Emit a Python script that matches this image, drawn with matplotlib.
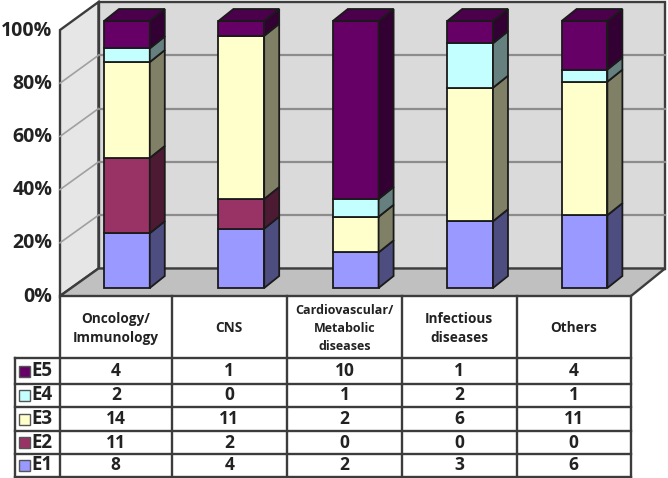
import numpy as np
import matplotlib
matplotlib.use('Agg')
import matplotlib.pyplot as plt
from matplotlib.patches import Polygon, Rectangle

W, H = 668, 478

categories = ['Oncology/\nImmunology', 'CNS', 'Cardiovascular/\nMetabolic\ndiseases', 'Infectious\ndiseases', 'Others']
series = ['E1', 'E2', 'E3', 'E4', 'E5']
e1 = [8, 4, 2, 3, 6]
e2 = [11, 2, 0, 0, 0]
e3 = [14, 11, 2, 6, 11]
e4 = [2, 0, 1, 2, 1]
e5 = [4, 1, 10, 1, 4]
pct_ticks = [0, 20, 40, 60, 80, 100]

front = ['#9999FF', '#993366', '#FFFFCC', '#C4FFFF', '#660066']
side = ['#4D4D80', '#4D1A33', '#808066', '#668080', '#330033']
edge = '#1a1a1a'

plt.rcParams['font.family'] = 'Open Sans'
plt.rcParams['font.weight'] = 'bold'
plt.rcParams['text.color'] = '#222222'

fig = plt.figure(figsize=(W / 100, H / 100), dpi=100, facecolor='white')

# background axes in pixels: walls, floor and table
bg = fig.add_axes([0, 0, 1, 1])
bg.set_xlim(0, W)
bg.set_ylim(H, 0)
bg.axis('off')

line = '#3c3c3c'
left_x, back_x, right_x, back_rx = 60, 98.5, 631, 665
y0, y100 = 296, 30
by0, by100 = 268.5, 2
bg.add_patch(Polygon([(left_x, y0), (back_x, by0), (back_x, by100), (left_x, y100)], fc='#E6E6E6', ec=line, lw=1.7))
bg.add_patch(Polygon([(back_x, by0), (back_rx, by0), (back_rx, by100), (back_x, by100)], fc='#DADADA', ec=line, lw=1.7))
bg.add_patch(Polygon([(left_x, y0), (right_x, y0), (back_rx, by0), (back_x, by0)], fc='#C0C0C0', ec=line, lw=1.7))

for p in pct_ticks:
    y = y0 + (y100 - y0) * p / 100
    by = by0 + (by100 - by0) * p / 100
    if 0 < p < 100:
        bg.plot([left_x, back_x], [y, by], color='#a0a0a0', lw=1.2)
        bg.plot([back_x, back_rx], [by, by], color='#8c8c8c', lw=1.6)
    bg.text(52.5, y + 0.5, f'{p}%', ha='right', va='center', fontsize=14, color='#222222')

# table
col_x = [60, 171.5, 287, 402, 516.5, 631]
row_y = [358, 384, 407, 431, 454, 477]
tl = '#3c3c3c'
for x in col_x:
    bg.plot([x, x], [y0, row_y[-1]], color=tl, lw=1.7)
bg.plot([15, 15], [row_y[0], row_y[-1]], color=tl, lw=1.7)
for y in row_y:
    bg.plot([15, right_x], [y, y], color=tl, lw=1.7)
for i, c in enumerate(categories):
    fs = 9 if i == 2 else 9.8
    bg.text((col_x[i] + col_x[i + 1]) / 2, (y0 + row_y[0]) / 2 + 1.5, c, ha='center', va='center',
            fontsize=fs, linespacing=1.5, color='#222222')
rows = [(4, e5), (3, e4), (2, e3), (1, e2), (0, e1)]
for r, (k, vals) in enumerate(rows):
    yc = (row_y[r] + row_y[r + 1]) / 2
    bg.add_patch(Rectangle((19, yc - 5.5), 10.5, 11, fc=front[k], ec='#555555', lw=1))
    bg.text(31, yc, series[k], ha='left', va='center', fontsize=13.5, color='#222222')
    for i, v in enumerate(vals):
        bg.text((col_x[i] + col_x[i + 1]) / 2, yc, str(v), ha='center', va='center', fontsize=12.5, color='#222222')

# bars, in their own axes: categories across, percent up
ax = fig.add_axes([69.7 / W, 1 - 288 / H, 572 / W, 267 / H])
ax.set_xlim(-0.5, 4.5)
ax.set_ylim(0, 100)
ax.axis('off')

counts = np.array([e1, e2, e3, e4, e5], dtype=float)
pct = counts / counts.sum(axis=0) * 100
x = np.arange(len(categories))
bw = 0.4
dx = 15 / (572 / 5)
dy = 12 / 2.67
bottom = np.zeros(len(categories))
for k in range(len(series)):
    ax.bar(x, pct[k], bw, bottom=bottom, color=front[k], edgecolor=edge, linewidth=1.3, clip_on=False)
    for i in x:
        if pct[k][i] == 0:
            continue
        xr = i + bw / 2
        b, t = bottom[i], bottom[i] + pct[k][i]
        ax.add_patch(Polygon([(xr, b), (xr + dx, b + dy), (xr + dx, t + dy), (xr, t)],
                             fc=side[k], ec=edge, lw=1.3, clip_on=False))
        if k == len(series) - 1:
            xl = i - bw / 2
            ax.add_patch(Polygon([(xl, t), (xl + dx, t + dy), (xr + dx, t + dy), (xr, t)],
                                 fc='#4A004A', ec=edge, lw=1.3, clip_on=False))
    bottom += pct[k]

fig.savefig('out.png', dpi=100)
